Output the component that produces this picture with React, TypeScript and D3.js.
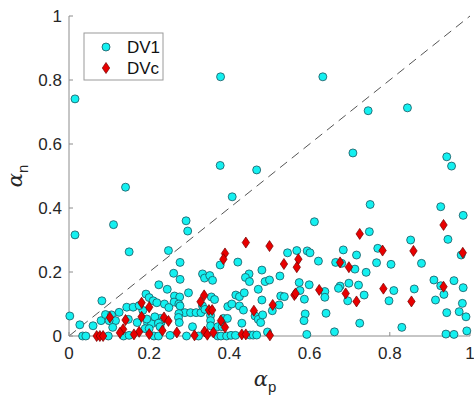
import * as d3 from 'd3';

// alpha_p / alpha_n pairs
const dv1: [number, number][] = [
  // upper, sparse
  [0.015, 0.741], [0.378, 0.81], [0.633, 0.81], [0.746, 0.704], [0.844, 0.713],
  [0.708, 0.572], [0.942, 0.56], [0.954, 0.531], [0.377, 0.533], [0.468, 0.519],
  [0.141, 0.465], [0.407, 0.435], [0.751, 0.411], [0.927, 0.404], [0.983, 0.377],
  [0.111, 0.348], [0.292, 0.36], [0.612, 0.357], [0.296, 0.328], [0.749, 0.326],
  [0.015, 0.316],
  // 0 - 0.19
  [0.002, 0.0625], [0.027, 0.035], [0.034, 0], [0.042, 0], [0.06, 0.032],
  [0.082, 0.11], [0.08, 0.048], [0.091, 0.067], [0.106, 0.066], [0.125, 0.074],
  [0.116, 0.048], [0.1, 0.048], [0.109, 0.027], [0.144, 0.09], [0.16, 0.09],
  [0.184, 0.08], [0.098, 0], [0.136, 0], [0.15, 0.002], [0.148, 0.052],
  [0.17, 0.042], [0.175, 0.095], [0.15, 0.263],
  // 0.19 - 0.41
  [0.248, 0.267], [0.277, 0.23], [0.377, 0.222], [0.261, 0.196], [0.277, 0.177],
  [0.333, 0.194], [0.338, 0.181], [0.351, 0.189], [0.358, 0.174], [0.224, 0.16],
  [0.245, 0.146], [0.298, 0.135], [0.355, 0.122], [0.363, 0.114], [0.263, 0.125],
  [0.276, 0.122], [0.262, 0.106], [0.274, 0.1], [0.192, 0.131], [0.2, 0.12],
  [0.21, 0.11], [0.219, 0.104], [0.238, 0.1], [0.249, 0.089], [0.277, 0.094],
  [0.396, 0.092], [0.406, 0.1], [0.289, 0.073], [0.303, 0.073], [0.317, 0.073],
  [0.329, 0.073], [0.274, 0.07], [0.228, 0.055], [0.23, 0.043], [0.273, 0.058],
  [0.275, 0.042], [0.353, 0.064], [0.353, 0.048], [0.353, 0.032], [0.308, 0.029],
  [0.252, 0.002], [0.293, 0], [0.323, 0], [0.371, 0], [0.379, 0], [0.393, 0],
  [0.404, 0.002], [0.212, 0], [0.223, 0], [0.196, 0.04], [0.206, 0.038],
  [0.214, 0.06], [0.223, 0.04], [0.227, 0.029], [0.194, 0.053], [0.19, 0.023],
  [0.2, 0.023], [0.385, 0.055], [0.395, 0.055], [0.371, 0.029], [0.382, 0.029],
  [0.333, 0.094], [0.339, 0.083],
  // 0.41 - 0.62
  [0.421, 0.231], [0.545, 0.26], [0.568, 0.267], [0.594, 0.266], [0.601, 0.26],
  [0.622, 0.234], [0.481, 0.206], [0.449, 0.194], [0.44, 0.183], [0.45, 0.17],
  [0.489, 0.17], [0.5, 0.175], [0.526, 0.1875], [0.574, 0.167], [0.599, 0.16],
  [0.472, 0.146], [0.416, 0.128], [0.425, 0.123], [0.437, 0.135], [0.528, 0.125],
  [0.537, 0.123], [0.576, 0.142], [0.481, 0.1125], [0.587, 0.115], [0.425, 0.094],
  [0.435, 0.081], [0.524, 0.097], [0.507, 0.079], [0.464, 0.0625], [0.472, 0.052],
  [0.483, 0.066], [0.478, 0.042], [0.431, 0.04], [0.589, 0.069], [0.586, 0.048],
  [0.495, 0.0125], [0.415, 0.002], [0.451, 0.003], [0.46, 0.003], [0.468, 0.003],
  [0.593, 0.005],
  // 0.62 - 0.83
  [0.77, 0.274], [0.684, 0.269], [0.717, 0.253], [0.665, 0.23], [0.68, 0.227],
  [0.713, 0.209], [0.741, 0.199], [0.767, 0.229], [0.803, 0.224], [0.638, 0.139],
  [0.638, 0.121], [0.676, 0.156], [0.672, 0.149], [0.698, 0.165], [0.722, 0.159],
  [0.695, 0.11], [0.736, 0.128], [0.81, 0.142], [0.798, 0.11], [0.641, 0.071],
  [0.725, 0.04], [0.662, 0.013], [0.83, 0.027],
  // 0.83 - 1
  [0.852, 0.3], [0.945, 0.302], [0.879, 0.227], [0.978, 0.253], [0.91, 0.175],
  [0.927, 0.157], [0.96, 0.173], [0.983, 0.151], [0.861, 0.147], [0.935, 0.13],
  [0.914, 0.1125], [0.981, 0.102], [0.942, 0.073], [0.973, 0.076], [0.99, 0.06],
  [0.94, 0.006], [0.96, 0.005], [0.992, 0.016],
];

const dvc: [number, number][] = [
  [0.934, 0.347], [0.725, 0.319],
  [0.069, 0], [0.077, 0], [0.085, 0], [0.102, 0.058], [0.141, 0.05],
  [0.135, 0.021], [0.127, 0.01], [0.181, 0.104], [0.181, 0.06], [0.175, 0.013],
  [0.162, 0.005],
  [0.389, 0.258], [0.385, 0.24], [0.337, 0.127], [0.328, 0.107], [0.2, 0.09],
  [0.349, 0.081], [0.357, 0.081], [0.237, 0.058], [0.248, 0.047], [0.379, 0.048],
  [0.389, 0.027], [0.233, 0.017], [0.269, 0.011], [0.313, 0.002], [0.338, 0.014],
  [0.345, 0.004], [0.36, 0.011], [0.2, 0.006],
  [0.441, 0.292], [0.5, 0.281], [0.536, 0.225], [0.572, 0.24], [0.568, 0.215],
  [0.562, 0.128], [0.565, 0.133], [0.624, 0.144], [0.461, 0.079], [0.508, 0.097],
  [0.431, 0.005], [0.441, 0.005], [0.501, 0.002],
  [0.782, 0.267], [0.676, 0.23], [0.698, 0.215], [0.69, 0.133], [0.717, 0.108],
  [0.784, 0.148],
  [0.859, 0.266], [0.982, 0.26], [0.934, 0.154], [0.854, 0.108],
];

const ticks = [0, 0.2, 0.4, 0.6, 0.8, 1];
const tickLabels = ['0', '0.2', '0.4', '0.6', '0.8', '1'];

const W = 474;
const H = 396;
const FONT = 'Liberation Sans, Arial, Helvetica, sans-serif';
const CYAN = '#14f0f0';
const CYAN_EDGE = '#1a5560';
const RED = '#e80000';
const RED_EDGE = '#700000';
const R = 4;

const diamond = (cx: number, cy: number) =>
  `M${cx},${cy - 5.5}L${cx + 3.7},${cy}L${cx},${cy + 5.5}L${cx - 3.7},${cy}Z`;

export default function App() {
  const x = d3.scaleLinear().domain([0, 1]).range([69, 470]);
  const y = d3.scaleLinear().domain([0, 1]).range([336, 16]);
  const [x0, x1] = x.range();
  const [y0, y1] = y.range();

  return (
    <svg
      width={W}
      height={H}
      style={{ position: 'absolute', left: 0, top: 0, background: '#fff' }}
      fontFamily={FONT}
    >
      {/* identity line */}
      <line
        x1={x(0)} y1={y(0)} x2={x(1)} y2={y(1)}
        stroke="#555" strokeWidth={1} strokeDasharray="9,6"
      />

      {/* axes */}
      <line x1={x0} x2={x1} y1={y0} y2={y0} stroke="#8c8c8c" strokeWidth={1} />
      <line x1={x0} x2={x0} y1={y0} y2={y1} stroke="#8c8c8c" strokeWidth={1} />
      {ticks.map((t, i) => (
        <g key={'xt' + i}>
          <line x1={x(t)} x2={x(t)} y1={y0} y2={y0 - 4} stroke="#8c8c8c" />
          <text x={x(t)} y={y0 + 23} textAnchor="middle" fontSize={17} fill="#262626">
            {tickLabels[i]}
          </text>
        </g>
      ))}
      {ticks.map((t, i) => (
        <g key={'yt' + i}>
          <line x1={x0} x2={x0 + 4} y1={y(t)} y2={y(t)} stroke="#8c8c8c" />
          <text x={x0 - 7} y={y(t) + 6} textAnchor="end" fontSize={17} fill="#262626">
            {tickLabels[i]}
          </text>
        </g>
      ))}

      {/* markers */}
      {dv1.map((d, i) => (
        <circle
          key={'c' + i} cx={x(d[0])} cy={y(d[1])} r={R}
          fill={CYAN} stroke={CYAN_EDGE} strokeWidth={0.8}
        />
      ))}
      {dvc.map((d, i) => (
        <path
          key={'d' + i} d={diamond(x(d[0]), y(d[1]))}
          fill={RED} stroke={RED_EDGE} strokeWidth={0.7}
        />
      ))}

      {/* axis titles */}
      <text x={265} y={386} textAnchor="middle" fill="#262626">
        <tspan fontFamily="DejaVu Serif" fontStyle="italic" fontSize={21}>α</tspan>
        <tspan fontSize={15} dy={6}>p</tspan>
      </text>
      <text transform="translate(22,176) rotate(-90)" textAnchor="middle" fill="#262626">
        <tspan fontFamily="DejaVu Serif" fontStyle="italic" fontSize={21}>α</tspan>
        <tspan fontSize={15} dy={6}>n</tspan>
      </text>

      {/* legend */}
      <rect x={84} y={33} width={79} height={47} fill="#fff" stroke="#9a9a9a" strokeWidth={1} />
      <circle cx={106} cy={47} r={R} fill={CYAN} stroke={CYAN_EDGE} strokeWidth={0.8} />
      <path d={diamond(106, 68)} fill={RED} stroke={RED_EDGE} strokeWidth={0.7} />
      <text x={127} y={53} fontSize={17} fill="#111">DV1</text>
      <text x={127} y={74} fontSize={17} fill="#111">DVc</text>
    </svg>
  );
}
